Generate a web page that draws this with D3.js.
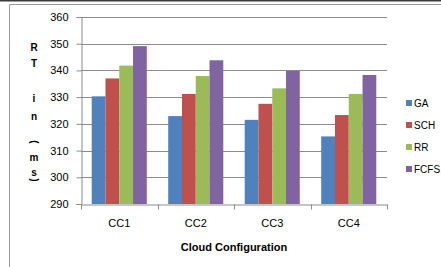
<!DOCTYPE html>
<html>
<head>
<meta charset="utf-8">
<script src="https://cdnjs.cloudflare.com/ajax/libs/d3/7.8.5/d3.min.js"></script>
<style>
    body { margin: 0; background: #fff; }
    svg { display: block; }
    text { font-family: "Liberation Sans", Arial, sans-serif; fill: #000; }
</style>
</head>
<body>
<div id="barChartd3"></div>
<script>
var widthbard3 = 441,
    heightbard3 = 267;

var categories = ["CC1", "CC2", "CC3", "CC4"];
var seriesNames = ["GA", "SCH", "RR", "FCFS"];
var GA = [330.3, 322.9, 321.5, 315.3];
var SCH = [337.0, 331.2, 327.5, 323.3];
var RR = [341.8, 337.9, 333.3, 331.2];
var FCFS = [349.1, 343.8, 339.8, 338.3];
var yTicks = [290, 300, 310, 320, 330, 340, 350, 360];
var yTitleChars = ["R", "T", "i", "n", "(", "m", "s", ")"];

var seriesValues = { GA: GA, SCH: SCH, RR: RR, FCFS: FCFS };

var svg = d3.select("#barChartd3").append("svg")
    .attr("width", widthbard3)
    .attr("height", heightbard3);

// outer frame (chart area border)
svg.append("line")
    .attr("x1", 0).attr("x2", widthbard3).attr("y1", 0.5).attr("y2", 0.5)
    .attr("stroke", "#3c3c3c").attr("stroke-width", 2);
svg.append("path")
    .attr("d", "M9.5," + heightbard3 + "V4.5H" + widthbard3)
    .attr("fill", "none")
    .attr("stroke", "#9a9a9a");

var x = d3.scaleBand()
    .domain(categories)
    .range([81, 387])
    .paddingInner(0.28)
    .paddingOuter(0.14);

var x1 = d3.scaleBand()
    .domain(seriesNames)
    .range([0, x.bandwidth()]);

var y = d3.scaleLinear()
    .domain([290, 360])
    .range([204, 17]);

var color = d3.scaleOrdinal()
    .domain(seriesNames)
    .range(["#4f81bd", "#c0504d", "#9bbb59", "#8064a2"]);

// gridlines
svg.append("g")
    .selectAll("line")
    .data(yTicks.slice(1))
    .enter().append("line")
    .attr("x1", 81).attr("x2", 387)
    .attr("y1", function (d) { return Math.round(y(d)) + 0.5; })
    .attr("y2", function (d) { return Math.round(y(d)) + 0.5; })
    .attr("stroke", "#8c8c8c");

// bars
var group = svg.append("g")
    .selectAll("g")
    .data(categories)
    .enter().append("g")
    .attr("transform", function (d) { return "translate(" + x(d) + ",0)"; });

group.selectAll("rect")
    .data(function (d, i) {
        return seriesNames.map(function (s) { return { key: s, value: seriesValues[s][i] }; });
    })
    .enter().append("rect")
    .attr("x", function (d) { return x1(d.key); })
    .attr("width", x1.bandwidth())
    .attr("y", function (d) { return y(d.value); })
    .attr("height", function (d) { return y(290) - y(d.value); })
    .attr("fill", function (d) { return color(d.key); });

// y axis
var yAxis = svg.append("g")
    .attr("transform", "translate(81.5,0)")
    .call(d3.axisLeft(y).tickValues(yTicks).tickSize(5).tickPadding(8).tickFormat(d3.format("d")));
yAxis.select(".domain").attr("stroke", "#8c8c8c");
yAxis.selectAll(".tick line").attr("stroke", "#8c8c8c");
yAxis.selectAll(".tick text").attr("font-size", 11).attr("fill", "#111");

// x axis
var xAxis = svg.append("g")
    .attr("transform", "translate(0," + (y(290) + 0.5) + ")")
    .call(d3.axisBottom(x).tickSize(0).tickPadding(15));
xAxis.select(".domain").attr("stroke", "#8c8c8c");
xAxis.selectAll(".tick text").attr("font-size", 11).attr("fill", "#111");
xAxis.selectAll(".sep")
    .data(d3.range(categories.length + 1))
    .enter().append("line")
    .attr("class", "sep")
    .attr("x1", function (i) { return Math.round(x.range()[0] + i * x.step()) + 0.5; })
    .attr("x2", function (i) { return Math.round(x.range()[0] + i * x.step()) + 0.5; })
    .attr("y1", 0).attr("y2", 5)
    .attr("stroke", "#8c8c8c");

// axis titles
svg.append("text")
    .attr("x", (x.range()[0] + x.range()[1]) / 2)
    .attr("y", 251)
    .attr("text-anchor", "middle")
    .attr("font-size", 11)
    .attr("font-weight", "bold")
    .text("Cloud Configuration");

var yTitleY = [47, 63, 98, 116, 142, 157, 172, 180];
svg.append("g")
    .selectAll("text")
    .data(yTitleChars)
    .enter().append("text")
    .attr("font-size", 10)
    .attr("font-weight", "bold")
    .attr("text-anchor", "middle")
    .attr("dy", "0.35em")
    .attr("transform", function (d, i) {
        var t = "translate(34," + yTitleY[i] + ")";
        if (d == "(" || d == ")") t += " rotate(90)";
        return t;
    })
    .text(function (d) { return d; });

// legend
var legend = svg.append("g")
    .selectAll("g")
    .data(seriesNames)
    .enter().append("g")
    .attr("transform", function (d, i) { return "translate(406," + (103 + i * 22) + ")"; });

legend.append("rect")
    .attr("x", 0).attr("y", -3)
    .attr("width", 6).attr("height", 6)
    .attr("fill", function (d) { return color(d); });

legend.append("text")
    .attr("x", 8)
    .attr("dy", "0.35em")
    .attr("font-size", 10)
    .text(function (d) { return d; });
</script>
</body>
</html>
